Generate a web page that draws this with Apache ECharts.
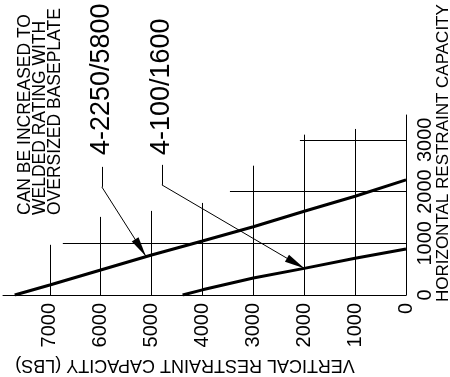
<!DOCTYPE html>
<html>
<head>
<meta charset="utf-8">
<script src="https://cdn.jsdelivr.net/npm/echarts@6/dist/echarts.min.js"></script>
<style>html,body{margin:0;padding:0;background:#fff}#c{width:450px;height:377px}</style>
</head>
<body>
<div id="c"></div>
<script>
// ---- data ----
const xTickLabels = [0, 1000, 2000, 3000, 4000, 5000, 6000, 7000];
const yTickLabels = [0, 1000, 2000, 3000];
const seriesNames = ['4-2250/5800', '4-100/1600'];
const line1X = [7690, 7000, 6000, 5000, 4000, 3000, 2000, 1000, 0];
const line1Y = [0, 194, 484, 774, 1045, 1320, 1620, 1910, 2225];
const line2X = [4390, 4000, 3000, 2000, 1000, 0];
const line2Y = [0, 100, 330, 515, 710, 890];
// partial grid: vertical [x, topY], horizontal [y, leftX]
const gridVertical = [[7000, 970], [6000, 1510], [5000, 1626], [4000, 1780], [3000, 2500], [2000, 3100], [1000, 3210]];
const gridHorizontal = [[1000, 6744], [2000, 3460], [3000, 2085]];
// leader lines: [x,y] points (elbow start, elbow, arrow tip)
const leader1 = [[5978, 2477], [5978, 2090], [5112, 750]];
const leader2 = [[4798, 2516], [4798, 2129], [2000, 515]];
const noteText = ['CAN BE INCREASED TO', 'WELDED RATING WITH', 'OVERSIZED BASEPLATE'];
const xAxisTitle = 'VERTICAL RESTRAINT CAPACITY (LBS)';
const yAxisTitle = 'HORIZONTAL RESTRAINT CAPACITY';

const FONT = "'Liberation Sans', Arial, sans-serif";
const zip = (xs, ys) => xs.map((x, i) => [x, ys[i]]);

const gridSegs = [];
gridVertical.forEach(([x, t]) => gridSegs.push([{coord: [x, 0]}, {coord: [x, t]}]));
gridHorizontal.forEach(([y, l]) => gridSegs.push([{coord: [l, y]}, {coord: [0, y]}]));
const elbowSegs = [leader1, leader2].map(L => [{coord: L[0]}, {coord: L[1]}]);
const arrowSegs = [leader1, leader2].map(L => [{coord: L[1]}, {coord: L[2]}]);

const chart = echarts.init(document.getElementById('c'), null, {renderer: 'canvas'});
chart.setOption({
  animation: false,
  backgroundColor: '#fff',
  grid: {left: 3, right: 44, top: 115, bottom: 82},
  xAxis: {
    type: 'value', inverse: true, min: 0, max: 7920, interval: 1000,
    axisLine: {show: true, lineStyle: {color: '#000', width: 1}},
    axisTick: {show: false}, splitLine: {show: false},
    axisLabel: {
      rotate: 90, margin: 8, fontSize: 20, color: '#000', fontFamily: FONT,
      formatter: v => xTickLabels.indexOf(v) >= 0 ? String(v) : ''
    }
  },
  yAxis: {
    type: 'value', position: 'right', min: 0, max: 3480, interval: 1000,
    axisLine: {show: true, lineStyle: {color: '#000', width: 1}},
    axisTick: {show: false}, splitLine: {show: false},
    axisLabel: {
      rotate: 90, margin: 9, fontSize: 20, color: '#000', fontFamily: FONT,
      formatter: v => yTickLabels.indexOf(v) >= 0 ? String(v) : ''
    }
  },
  series: [
    {
      name: 'grid', type: 'line', data: [], silent: true,
      markLine: {
        silent: true, symbol: 'none', label: {show: false}, animation: false,
        lineStyle: {color: '#000', width: 1, type: 'solid'},
        emphasis: {disabled: true},
        data: gridSegs.concat(elbowSegs)
      }
    },
    {
      name: 'leaders', type: 'line', data: [], silent: true,
      markLine: {
        silent: true, symbol: ['none', 'triangle'], symbolSize: [8, 20],
        symbolOffset: [[0, 0], [0, 10]],
        label: {show: false}, animation: false,
        lineStyle: {color: '#000', width: 1, type: 'solid'},
        emphasis: {disabled: true},
        data: arrowSegs
      }
    },
    {
      name: seriesNames[0], type: 'line', data: zip(line1X, line1Y),
      symbol: 'none', lineStyle: {color: '#000', width: 3}, silent: true
    },
    {
      name: seriesNames[1], type: 'line', data: zip(line2X, line2Y),
      symbol: 'none', lineStyle: {color: '#000', width: 3}, silent: true
    }
  ],
  graphic: [
    {type: 'text', x: 40, y: 215, rotation: Math.PI / 2,
     style: {text: noteText.join('\n'), font: "17.5px " + FONT, fill: '#000', align: 'left', verticalAlign: 'middle', lineHeight: 15}},
    {type: 'text', x: 102, y: 155, rotation: Math.PI / 2,
     style: {text: seriesNames[0], font: "27px " + FONT, fill: '#000', align: 'left', verticalAlign: 'middle'}},
    {type: 'text', x: 162, y: 155, rotation: Math.PI / 2,
     style: {text: seriesNames[1], font: "27px " + FONT, fill: '#000', align: 'left', verticalAlign: 'middle'}},
    {type: 'text', x: 443, y: 302, rotation: Math.PI / 2,
     style: {text: yAxisTitle, font: "17px " + FONT, fill: '#000', align: 'left', verticalAlign: 'middle'}},
    {type: 'text', x: 185, y: 365, rotation: Math.PI,
     style: {text: xAxisTitle, font: "18px " + FONT, fill: '#000', align: 'center', verticalAlign: 'middle'}}
  ]
});
</script>
</body>
</html>
